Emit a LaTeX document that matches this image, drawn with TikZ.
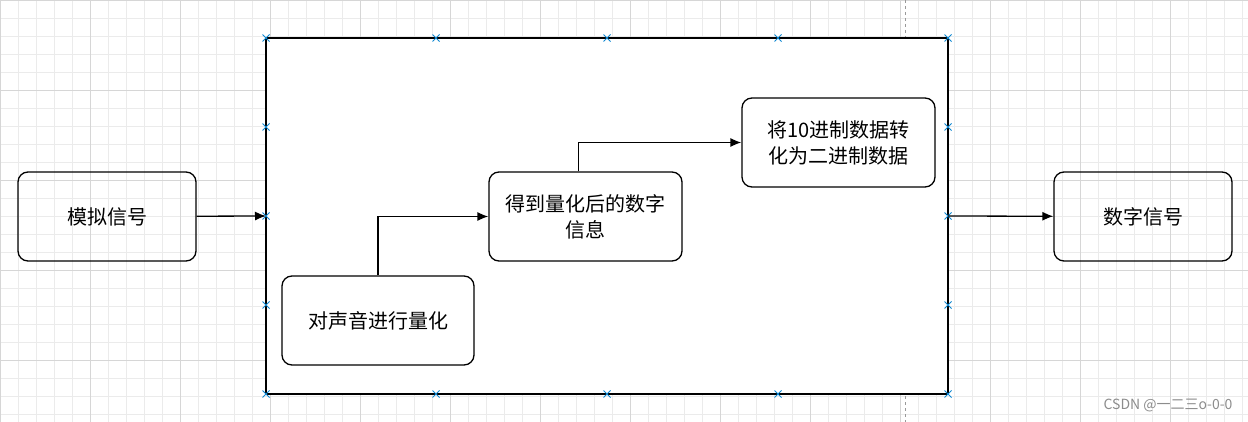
\documentclass[tikz,border=0pt]{standalone}
\usepackage{fontspec}
\setmainfont{Noto Sans CJK SC}
\usetikzlibrary{arrows.meta}
\begin{document}
\begin{tikzpicture}[x=1pt,y=-1pt,
  box/.style={draw,rounded corners=10pt,line width=1.3pt,align=center,font=\fontsize{20}{26}\selectfont},
  arr/.style={-{Latex[length=11pt,width=9pt]},line width=1.3pt},
  xm/.style={draw=cyan!70!blue,line width=0.9pt}]
\useasboundingbox (0,0) rectangle (1248,422);
\fill[white] (0,0) rectangle (1248,422);
\foreach \i in {0,...,70} {\draw[black!8,line width=0.6pt] (\i*18,0) -- (\i*18,422);}
\foreach \i in {0,...,24} {\draw[black!8,line width=0.6pt] (0,\i*18) -- (1248,\i*18);}
\foreach \i in {0,...,14} {\draw[black!16,line width=0.6pt] (\i*90,0) -- (\i*90,422);}
\foreach \i in {0,...,5} {\draw[black!16,line width=0.6pt] (0,\i*90) -- (1248,\i*90);}
\draw[black!40,dashed,line width=1pt] (905,0) -- (905,422);
\draw[line width=1.3pt,fill=white] (266,38) rectangle (948,394);
\foreach \x in {266,436,607,778,948} {\foreach \y in {38,394} {
  \draw[xm] (\x-3.5,\y-3.5) -- (\x+3.5,\y+3.5) (\x-3.5,\y+3.5) -- (\x+3.5,\y-3.5);}}
\foreach \y in {127,216,305} {\foreach \x in {266,948} {
  \draw[xm] (\x-3.5,\y-3.5) -- (\x+3.5,\y+3.5) (\x-3.5,\y+3.5) -- (\x+3.5,\y-3.5);}}
\coordinate (rl) at (266,216);
\coordinate (rr) at (948,216);
\node[box,minimum width=178pt,minimum height=89pt] (a) at (107,216.5) {模拟信号};
\node[box,minimum width=178pt,minimum height=89pt] (d) at (1143,216.5) {数字信号};
\node[box,minimum width=192pt,minimum height=89pt] (b) at (378,320.5) {对声音进行量化};
\node[box,minimum width=193pt,minimum height=89pt,inner sep=1pt] (c) at (585.5,216.5) {得到量化后的数字\\信息};
\node[box,minimum width=193pt,minimum height=89pt,inner sep=1pt] (e) at (838.5,142.5) {将10进制数据转\\化为二进制数据};
\draw[arr] (a) -- (rl);
\draw[arr] (rr) -- (d);
\draw[arr] (b.north) |- (c.west);
\draw[arr] ([xshift=-7pt]c.north) |- (e.west);
\node[black!45,font=\fontsize{14}{16}\selectfont,anchor=east] (w) at (1236,405) {CSDN @一二三o-0-0};
\end{tikzpicture}
\end{document}
